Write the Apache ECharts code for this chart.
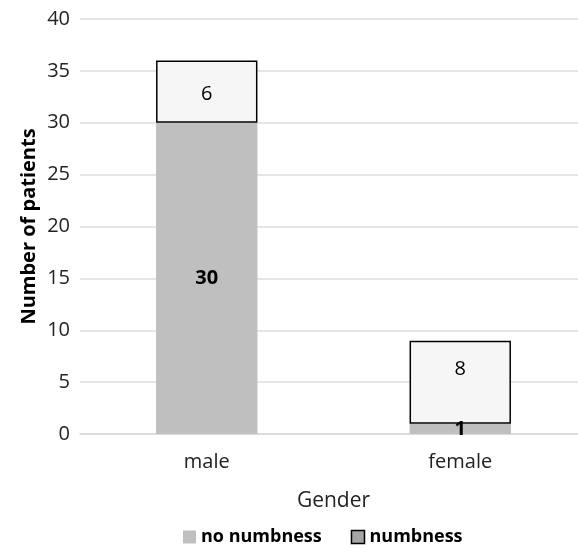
<!DOCTYPE html>
<html>
<head>
<meta charset="utf-8">
<script src="https://cdn.jsdelivr.net/npm/echarts@6/dist/echarts.min.js"></script>
<style>
  html, body { margin: 0; padding: 0; background: #fff; }
  #chart { width: 578px; height: 546px; }
</style>
</head>
<body>
<div id="chart"></div>
<script>
// Patients by gender, split by whether numbness was reported
const categories = ['male', 'female'];
const noNumbness = [30, 1];
const numbness = [6, 8];
const yTicks = { min: 0, max: 40, interval: 5 };

const FONT = '"Open Sans", "Noto Sans", sans-serif';

const chart = echarts.init(document.getElementById('chart'), null, { renderer: 'canvas' });

chart.setOption({
  animation: false,
  textStyle: { fontFamily: FONT },
  grid: { left: 80, top: 19, width: 507, height: 415, outerBoundsMode: 'none', containLabel: false },
  legend: {
    top: 523,
    left: 178,
    itemWidth: 13,
    itemHeight: 13,
    itemGap: 29,
    icon: 'rect',
    textStyle: { fontFamily: FONT, fontSize: 18, fontWeight: 'bold', color: '#000' },
    data: [
      { name: 'no numbness', itemStyle: { color: '#bfbfbf', borderWidth: 0 } },
      { name: 'numbness', itemStyle: { color: '#a5a5a5', borderColor: '#000', borderWidth: 1.5 } }
    ]
  },
  xAxis: {
    type: 'category',
    data: categories,
    name: 'Gender',
    nameLocation: 'middle',
    nameGap: 57,
    nameTextStyle: { fontFamily: FONT, fontSize: 21, color: '#222' },
    axisLine: { show: true, lineStyle: { color: '#d9d9d9', width: 1.5 } },
    axisTick: { show: false },
    axisLabel: { fontFamily: FONT, fontSize: 20, color: '#222', margin: 18 }
  },
  yAxis: {
    type: 'value',
    min: yTicks.min,
    max: yTicks.max,
    interval: yTicks.interval,
    name: 'Number of patients',
    nameLocation: 'middle',
    nameMoveOverlap: false,
    nameGap: 41,
    nameTextStyle: { fontFamily: FONT, fontSize: 20, fontWeight: 'bold', color: '#000' },
    axisLine: { show: false },
    axisTick: { show: false },
    axisLabel: { fontFamily: FONT, fontSize: 20, color: '#222', margin: 10 },
    splitLine: { lineStyle: { color: '#dedede', width: 1.5 } }
  },
  series: [
    {
      name: 'no numbness',
      type: 'bar',
      stack: 'total',
      barWidth: '40%',
      itemStyle: { color: '#bfbfbf' },
      label: {
        show: true,
        position: 'inside',
        fontFamily: FONT,
        fontSize: 20,
        fontWeight: 'bold',
        color: '#000'
      },
      data: noNumbness
    },
    {
      name: 'numbness',
      type: 'bar',
      stack: 'total',
      barWidth: '40%',
      itemStyle: { color: '#f5f6f5', borderColor: '#000', borderWidth: 1.5 },
      label: {
        show: true,
        position: 'inside',
        fontFamily: FONT,
        fontSize: 20,
        color: '#000'
      },
      data: numbness.map((v, i) => i === 1
        ? { value: v, label: { position: 'insideTop', distance: 19 } }
        : { value: v, label: { position: 'inside', offset: [0, 3] } })
    }
  ]
});
</script>
</body>
</html>
